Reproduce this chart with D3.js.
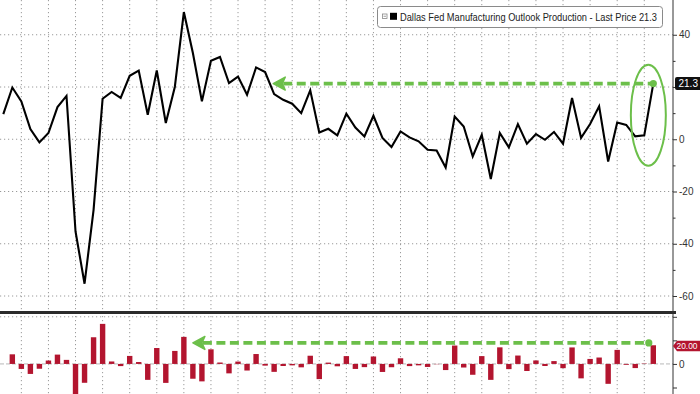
<!DOCTYPE html>
<html>
<head>
<meta charset="utf-8">
<script src="https://cdn.jsdelivr.net/npm/d3@7"></script>
<style>
  html, body { margin: 0; padding: 0; background: #fff; }
  svg { display: block; font-family: "Liberation Sans", Arial, sans-serif; }
</style>
</head>
<body>
<svg id="chart" width="700" height="394"></svg>
<script>
// Dallas Fed manufacturing outlook, production index (monthly)
const production = [
  9.6, 19.8, 14.5, 3.9, -1.2, 2.4, 12.3, 16.6, -35.3, -55.3,
  -27.0, 15.5, 18.1, 15.8, 24.3, 26.3, 9.4, 26.3, 6.2, 20.0,
  48.7, 33.0, 14.5, 30.0, 31.5, 21.5, 24.0, 17.0, 27.5, 25.7,
  17.3, 15.1, 13.6, 10.0, 18.7, 2.6, 4.0, 1.5, 9.8, 4.5,
  1.1, 9.0, 0.5, -3.0, 3.0, 0.7, -0.8, -4.0, -4.3, -10.8,
  8.7, 4.9, -6.6, 1.7, -15.2, 2.4, -3.1, 5.8, -1.7, 2.0,
  -0.2, 2.8, -1.7, 15.8, 0.5, 5.8, 12.6, -8.5, 6.4, 5.5,
  1.1, 1.5, 21.3
];
// month-on-month change (lower panel)
const monthlyChange = [
  0.0, 10.2, -5.3, -10.6, -5.1, 3.6, 9.9, 4.3, -51.9, -20.0,
  28.3, 42.5, 2.6, -2.3, 8.5, 2.0, -16.9, 16.9, -20.1, 13.8,
  28.7, -15.7, -18.5, 15.5, 1.5, -10.0, 2.5, -7.0, 10.5, -1.8,
  -8.4, -2.2, -1.5, -3.6, 8.7, -16.1, 1.4, -2.5, 8.3, -5.3,
  -3.4, 7.9, -8.5, -3.5, 6.0, -2.3, -1.5, -3.2, -0.3, -6.5,
  19.5, -3.8, -11.5, 8.3, -16.9, 17.6, -5.5, 8.9, -7.5, 3.7,
  -2.2, 3.0, -4.5, 17.5, -15.3, 5.3, 6.8, -21.1, 14.9, -0.9,
  -4.4, 0.4, 19.8
];
const seriesName = "Dallas Fed Manufacturing Outlook Production";
const lastPrice = 21.3;
const lastChangeLabel = "20.00";
const topTicks = [40, 20, 0, -20, -40, -60];
const topTickLabels = ["40", "", "0", "-20", "-40", "-60"]; // 20 sits under the price tag
const topMinorTicks = [30, 10, -10, -30, -50];
const bottomTicks = [50, 25, 0, -25];

// annotation anchors (month index / value units)
const topArrowFrom = 29.9;
const bottomArrowFrom = 21;
const bottomArrowValue = 22.3;
const bottomDotIndex = 71.5;
const circleCenter = [71.45, 9.2];

const green = "#6cbf4a";
const barRed = "#b3152f";
const axisX = 673;

const svg = d3.select("#chart");

const x = d3.scaleLinear().domain([0, production.length - 1]).range([3.3, 653.3]);
const yTop = d3.scaleLinear().domain([-60, 40]).range([296, 34.75]);
const yBot = d3.scaleLinear().domain([-25, 50]).range([387.5, 316.8]);

const defs = svg.append("defs");
defs.append("clipPath").attr("id", "clipTop")
  .append("rect").attr("x", 0).attr("y", 0).attr("width", axisX).attr("height", 311);
defs.append("clipPath").attr("id", "clipBot")
  .append("rect").attr("x", 0).attr("y", 314).attr("width", axisX).attr("height", 80);

// grid
const quarterIdx = d3.range(2, production.length, 3);
svg.append("g")
  .selectAll("line")
  .data(quarterIdx)
  .join("line")
  .attr("x1", d => x(d)).attr("x2", d => x(d))
  .attr("y1", 0).attr("y2", 394)
  .attr("stroke", "#9a9a9a")
  .attr("stroke-dasharray", "1.2,2.8");

svg.append("g")
  .selectAll("line")
  .data(topTicks)
  .join("line")
  .attr("x1", 0).attr("x2", axisX)
  .attr("y1", d => yTop(d)).attr("y2", d => yTop(d))
  .attr("stroke", "#9a9a9a")
  .attr("stroke-dasharray", "1.2,2.8");

svg.append("line")
  .attr("x1", 0).attr("x2", axisX)
  .attr("y1", yBot(50)).attr("y2", yBot(50))
  .attr("stroke", "#9a9a9a")
  .attr("stroke-dasharray", "1.2,2.8");

// zero line, lower panel
svg.append("line")
  .attr("x1", 0).attr("x2", axisX)
  .attr("y1", yBot(0)).attr("y2", yBot(0))
  .attr("stroke", "#b8b8b8")
  .attr("stroke-dasharray", "4,2");

// bars
svg.append("g")
  .attr("clip-path", "url(#clipBot)")
  .selectAll("rect")
  .data(monthlyChange)
  .join("rect")
  .attr("x", (d, i) => x(i) - 2.7)
  .attr("width", 5.4)
  .attr("y", d => yBot(Math.max(0, d)))
  .attr("height", d => Math.abs(yBot(d) - yBot(0)))
  .attr("fill", barRed);

// line
const line = d3.line()
  .x((d, i) => x(i))
  .y(d => yTop(d));

svg.append("path")
  .datum(production)
  .attr("clip-path", "url(#clipTop)")
  .attr("d", line)
  .attr("fill", "none")
  .attr("stroke", "#000")
  .attr("stroke-width", 2.1)
  .attr("stroke-linejoin", "miter");

// separator between panels
svg.append("rect")
  .attr("x", 0).attr("y", 311)
  .attr("width", axisX + 3).attr("height", 3)
  .attr("fill", "#2b2b2b");

// right axis
svg.append("line")
  .attr("x1", axisX).attr("x2", axisX)
  .attr("y1", 0).attr("y2", 394)
  .attr("stroke", "#333");

const axTop = svg.append("g")
  .attr("transform", `translate(${axisX},0)`)
  .call(d3.axisRight(yTop).tickValues(topTicks).tickSize(4).tickPadding(2)
    .tickFormat((d, i) => topTickLabels[i]));
const axTopMinor = svg.append("g")
  .attr("transform", `translate(${axisX},0)`)
  .call(d3.axisRight(yTop).tickValues(topMinorTicks).tickSize(2.5).tickFormat(""));
const axBot = svg.append("g")
  .attr("transform", `translate(${axisX},0)`)
  .call(d3.axisRight(yBot).tickValues(bottomTicks).tickSize(4).tickPadding(2)
    .tickFormat(d => d === 0 ? "0" : ""));

[axTop, axTopMinor, axBot].forEach(g => {
  g.select(".domain").remove();
  g.selectAll("line").attr("stroke", "#333");
  g.selectAll("text").attr("fill", "#333").style("font-size", "10px")
    .style("font-family", "'Liberation Sans', Arial, sans-serif");
});

// annotations
const last = production.length - 1;

svg.append("ellipse")
  .attr("cx", x(circleCenter[0])).attr("cy", yTop(circleCenter[1]))
  .attr("rx", 17.5).attr("ry", 50.5)
  .attr("fill", "none")
  .attr("stroke", green)
  .attr("stroke-width", 2);

function greenArrow(fromX, toX, yy) {
  svg.append("line")
    .attr("x1", fromX + 10).attr("x2", toX)
    .attr("y1", yy).attr("y2", yy)
    .attr("stroke", green)
    .attr("stroke-width", 3.6)
    .attr("stroke-dasharray", "9,4.5");
  svg.append("path")
    .attr("d", `M${fromX},${yy} L${fromX + 12},${yy - 6.5} L${fromX + 9},${yy} L${fromX + 12},${yy + 6.5} Z`)
    .attr("fill", green)
    .attr("stroke", green)
    .attr("stroke-width", 1.5)
    .attr("stroke-linejoin", "round");
  svg.append("circle")
    .attr("cx", toX).attr("cy", yy)
    .attr("r", 3.6)
    .attr("fill", green);
}

greenArrow(x(topArrowFrom), x(last), yTop(lastPrice));
greenArrow(x(bottomArrowFrom), x(bottomDotIndex), yBot(bottomArrowValue));

// legend
const legend = svg.append("g");
legend.append("rect")
  .attr("x", 377.5).attr("y", 6.5)
  .attr("width", 285).attr("height", 21)
  .attr("rx", 3)
  .attr("fill", "#fff")
  .attr("stroke", "#8a8a8a");
legend.append("rect")
  .attr("x", 382.5).attr("y", 14).attr("width", 4.5).attr("height", 4.5)
  .attr("fill", "none").attr("stroke", "#888").attr("stroke-width", 0.8);
legend.append("line")
  .attr("x1", 383.5).attr("x2", 386).attr("y1", 16.25).attr("y2", 16.25)
  .attr("stroke", "#888").attr("stroke-width", 0.8);
legend.append("rect")
  .attr("x", 390).attr("y", 12.8).attr("width", 7).attr("height", 7)
  .attr("fill", "#000");
legend.append("text")
  .attr("x", 400).attr("y", 20.6)
  .attr("textLength", 257)
  .attr("lengthAdjust", "spacingAndGlyphs")
  .attr("fill", "#222")
  .style("font-size", "10px")
  .text(`${seriesName} - Last Price ${lastPrice}`);

// last value tags on the axis
const tagTop = yTop(lastPrice);
svg.append("rect")
  .attr("x", 675).attr("y", tagTop - 6.5)
  .attr("width", 27).attr("height", 13)
  .attr("rx", 2)
  .attr("fill", "#111");
svg.append("text")
  .attr("x", 678.5).attr("y", tagTop + 3.6)
  .attr("fill", "#fff")
  .style("font-size", "10px")
  .text(lastPrice);

const tagBot = yBot(monthlyChange[last]) + 0.8;
svg.append("path")
  .attr("d", `M${axisX},${tagBot} L677,${tagBot - 5.2} L702,${tagBot - 5.2} L702,${tagBot + 5.2} L677,${tagBot + 5.2} Z`)
  .attr("fill", barRed);
svg.append("text")
  .attr("x", 676.5).attr("y", tagBot + 3.4)
  .attr("textLength", 21)
  .attr("lengthAdjust", "spacingAndGlyphs")
  .attr("fill", "#fff")
  .style("font-size", "9.5px")
  .text(lastChangeLabel);
</script>
</body>
</html>
